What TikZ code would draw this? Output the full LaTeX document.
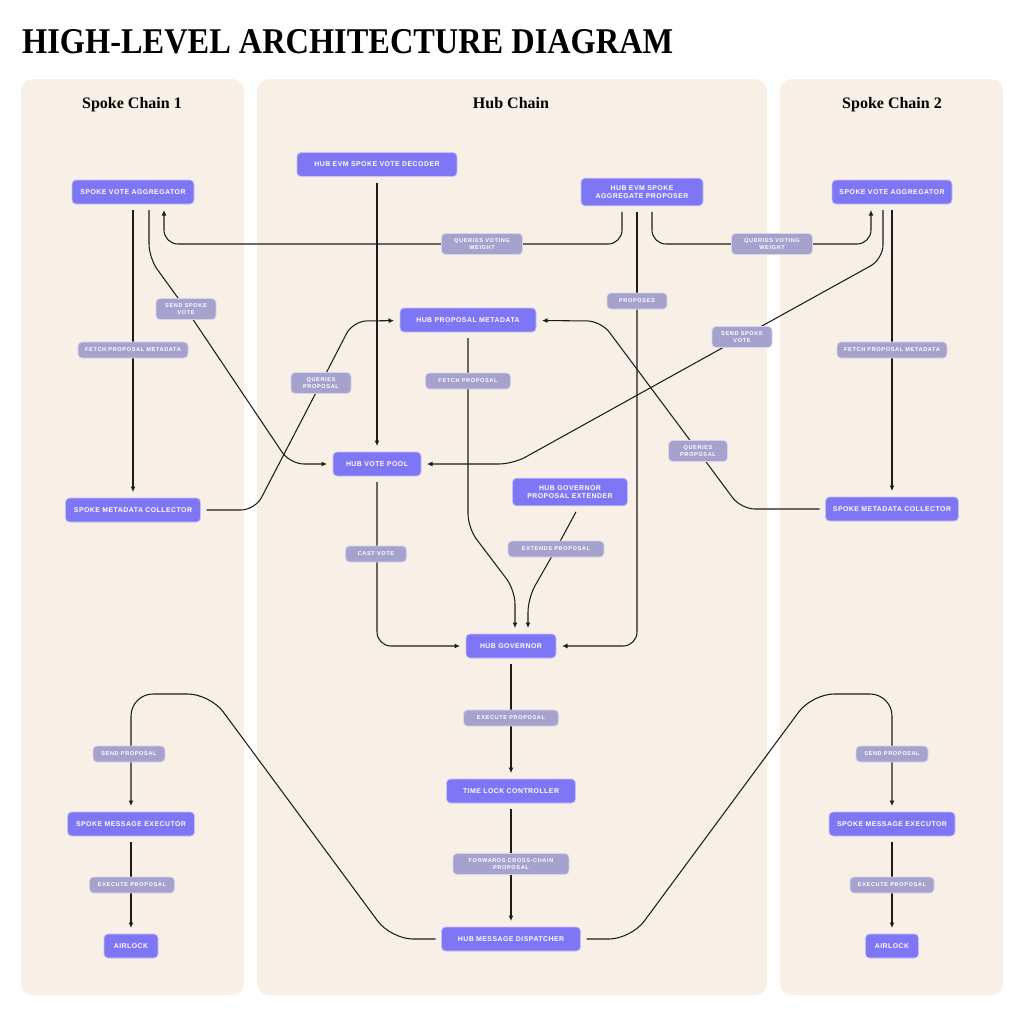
\documentclass[tikz,border=0pt]{standalone}
\usepackage{fontspec}
\usepackage{graphicx}
\setmainfont{Liberation Serif}
\newfontfamily\boxfont[LetterSpace=7]{Liberation Sans}
\newfontfamily\tagfont[LetterSpace=11]{Liberation Sans}
\usetikzlibrary{arrows.meta}
\definecolor{panelbg}{RGB}{248,239,230}
\definecolor{boxpurple}{RGB}{127,118,246}
\definecolor{tagpurple}{RGB}{166,162,206}
\definecolor{wiregray}{RGB}{28,28,28}
\pgfdeclarelayer{panels}
\pgfdeclarelayer{wires}
\pgfsetlayers{panels,wires,main}
\tikzset{
	block/.style={fill=boxpurple, draw=white!55!boxpurple, line width=0.7pt, rounded corners=4pt, text=white, align=center, font=\boxfont\bfseries\fontsize{6.9}{8.7}\selectfont, minimum height=24pt, inner xsep=5pt, inner ysep=7pt, outer sep=6pt},
	tag/.style={fill=tagpurple, draw=white!55!tagpurple, line width=0.7pt, rounded corners=4pt, text=white, align=center, font=\tagfont\bfseries\fontsize{5.6}{7}\selectfont, minimum height=16pt, inner xsep=3pt, inner ysep=5pt},
	wire/.style={draw=wiregray, line width=1.05pt, rounded corners=14pt},
	arr/.style={-{Latex[length=5.5pt,width=5pt]}},
	panel/.style={fill=panelbg, rounded corners=12pt},
	heading/.style={font=\bfseries\fontsize{16}{19}\selectfont, anchor=base, inner sep=0pt}
}

\begin{document}
\begin{tikzpicture}[x=1pt, y=-1pt]
			%%%%% START %%%%%
			\useasboundingbox (0, 0) rectangle (1024, 1013);
			
			\begin{pgfonlayer}{panels}
			\fill[white] (0, 0) rectangle (1024, 1013);
			\fill[panel] (21, 79) rectangle (244, 995);
			\fill[panel] (257, 79) rectangle (767, 995);
			\fill[panel] (780, 79) rectangle (1003, 995);
			\end{pgfonlayer}
			
			\node[anchor=south west, inner sep=0pt] (title) at (22, 54) {\resizebox{651pt}{24pt}{\fontsize{38}{40}\selectfont\bfseries HIGH-LEVEL ARCHITECTURE DIAGRAM}};
			\node[heading] (hdspokeA) at (132, 108) {Spoke Chain 1};
			\node[heading] (hdhub) at (511, 108) {Hub Chain};
			\node[heading] (hdspokeB) at (892, 108) {Spoke Chain 2};
			
			% spoke chain 1
			\node[block, minimum width=122pt] (svaA) at (133, 192) {SPOKE VOTE AGGREGATOR};
			\node[block, minimum width=135pt] (smcA) at (133, 510) {SPOKE METADATA COLLECTOR};
			\node[block, minimum width=127pt] (smeA) at (131, 824) {SPOKE MESSAGE EXECUTOR};
			\node[block, minimum width=54pt] (airA) at (131, 946) {AIRLOCK};
			
			% hub chain
			\node[block, minimum width=160pt] (hevd) at (377, 164.5) {HUB EVM SPOKE VOTE DECODER};
			\node[block, minimum width=122pt] (heap) at (642, 192) {HUB EVM SPOKE\\AGGREGATE PROPOSER};
			\node[block, minimum width=136pt] (hpm) at (468, 320) {HUB PROPOSAL METADATA};
			\node[block, minimum width=88pt] (hvp) at (377, 464) {HUB VOTE POOL};
			\node[block, minimum width=115pt] (hgpe) at (570, 492) {HUB GOVERNOR\\PROPOSAL EXTENDER};
			\node[block, minimum width=90pt] (hg) at (511, 646) {HUB GOVERNOR};
			\node[block, minimum width=129pt] (tlc) at (511, 791) {TIME LOCK CONTROLLER};
			\node[block, minimum width=139pt] (hmd) at (511, 939) {HUB MESSAGE DISPATCHER};
			
			% spoke chain 2
			\node[block, minimum width=120pt] (svaB) at (892, 192) {SPOKE VOTE AGGREGATOR};
			\node[block, minimum width=133pt] (smcB) at (892, 509) {SPOKE METADATA COLLECTOR};
			\node[block, minimum width=126pt] (smeB) at (892, 824) {SPOKE MESSAGE EXECUTOR};
			\node[block, minimum width=53pt] (airB) at (892, 946) {AIRLOCK};
			
			% labels on the wires
			\node[tag, minimum width=81pt] (qvwA) at (482, 244) {QUERIES VOTING\\WEIGHT};
			\node[tag, minimum width=81pt] (qvwB) at (772, 244) {QUERIES VOTING\\WEIGHT};
			\node[tag, minimum width=60pt] (ssvA) at (186, 309) {SEND SPOKE\\VOTE};
			\node[tag, minimum width=110pt] (fpmA) at (133, 350) {FETCH PROPOSAL METADATA};
			\node[tag, minimum width=60pt] (props) at (637, 301) {PROPOSES};
			\node[tag, minimum width=60pt] (ssvB) at (742, 337) {SEND SPOKE\\VOTE};
			\node[tag, minimum width=110pt] (fpmB) at (892, 350) {FETCH PROPOSAL METADATA};
			\node[tag, minimum width=60pt] (qpA) at (321, 383) {QUERIES\\PROPOSAL};
			\node[tag, minimum width=85pt] (fetp) at (468, 381) {FETCH PROPOSAL};
			\node[tag, minimum width=59pt] (qpB) at (698, 451) {QUERIES\\PROPOSAL};
			\node[tag, minimum width=61pt] (castv) at (376, 554) {CAST VOTE};
			\node[tag, minimum width=96pt] (extp) at (556, 549) {EXTENDS PROPOSAL};
			\node[tag, minimum width=95pt] (exhub) at (511, 718) {EXECUTE PROPOSAL};
			\node[tag, minimum width=116pt] (fwd) at (511, 864) {FORWARDS CROSS-CHAIN\\PROPOSAL};
			\node[tag, minimum width=72pt] (spA) at (129, 754) {SEND PROPOSAL};
			\node[tag, minimum width=85pt] (exA) at (132, 885) {EXECUTE PROPOSAL};
			\node[tag, minimum width=72pt] (spB) at (892, 754) {SEND PROPOSAL};
			\node[tag, minimum width=84pt] (exB) at (892, 885) {EXECUTE PROPOSAL};
			
			\begin{pgfonlayer}{wires}
			\draw[wire, arr] (hevd) -- (hvp);
			\draw[wire] ([xshift=-20pt]heap.south) |- (qvwA);
			\draw[wire, arr] (qvwA) -| ([xshift=31pt]svaA.south);
			\draw[wire] ([xshift=10pt]heap.south) |- (qvwB);
			\draw[wire, arr] (qvwB) -| ([xshift=-21pt]svaB.south);
			\draw[wire] ([xshift=-5pt]heap.south) -- (props);
			\draw[wire, arr] (props) |- (hg);
			
			\draw[wire, arr] (svaA) -- (smcA);
			\draw[wire, arr] ([xshift=16pt]svaA.south) -- ++(0, 48) -- (ssvA.center) -- (290, 464) -- (hvp);
			\draw[wire, arr] (smcA) -- (255, 510) -- (qpA.center) -- (353, 321) -- (hpm);
			
			\draw[wire, arr] (svaB) -- (smcB);
			\draw[wire, arr] ([xshift=-9pt]svaB.south) -- (883, 259) -- (ssvB.center) -- (513, 464) -- (hvp);
			\draw[wire, arr] (smcB) -- (741, 509) -- (qpB.center) -- (601, 321) -- (hpm);
			
			\draw[wire, arr] (hpm.south) -- (468, 528) -- (515, 590) -- ([xshift=4pt]hg.north);
			\draw[wire, arr] ([xshift=6pt]hgpe.south) -- (extp.center) -- (528, 598) -- ([xshift=17pt]hg.north);
			\draw[wire, arr] (hvp) |- (hg);
			
			\draw[wire, arr] (hg) -- (tlc);
			\draw[wire, arr] (tlc) -- (hmd);
			\draw[wire, arr, rounded corners=22pt] (hmd) -- (391, 939) -- (210, 694) -- (131, 694) -- (smeA);
			\draw[wire, arr, rounded corners=22pt] (hmd) -- (631, 939) -- (812, 694) -- (892, 694) -- (smeB);
			\draw[wire, arr] (smeA) -- (airA);
			\draw[wire, arr] (smeB) -- (airB);
			\end{pgfonlayer}
			
			%%%%% END %%%%%
\end{tikzpicture}
\end{document}
